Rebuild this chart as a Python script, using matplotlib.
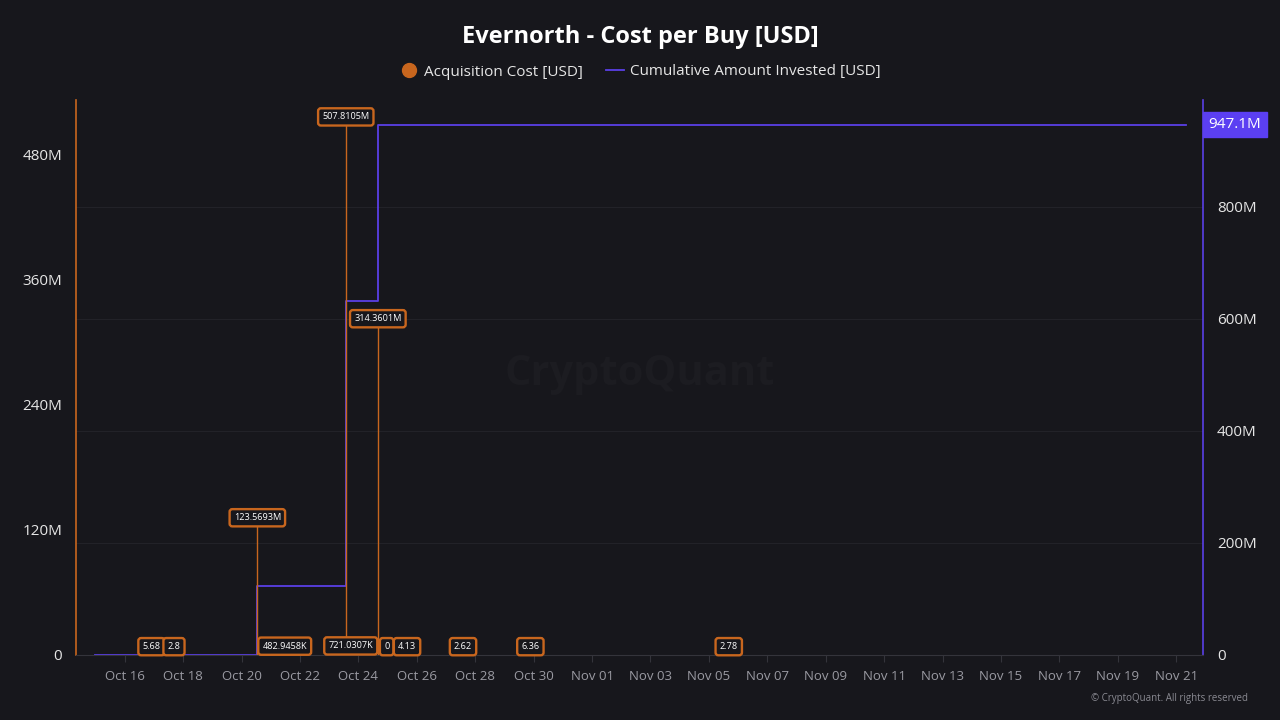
import matplotlib
matplotlib.use("Agg")
import matplotlib.pyplot as plt
import matplotlib.dates as mdates
import pandas as pd
import numpy as np

plt.rcParams['font.family'] = ['Open Sans', 'DejaVu Sans']

# ---- data ----
buy_times = ["2025-10-16 22:00", "2025-10-17 16:30", "2025-10-20 13:00", "2025-10-21 11:30",
             "2025-10-23 13:40", "2025-10-23 17:45", "2025-10-24 16:00", "2025-10-24 23:15",
             "2025-10-25 16:00", "2025-10-27 14:00", "2025-10-29 21:20", "2025-11-05 16:20"]
acq_cost = [5.68, 2.8, 123569300, 482945.8, 507810500, 721030.7, 314360100, 0,
            4.13, 2.62, 6.36, 2.78]
acq_labels = ["5.68", "2.8", "123.5693M", "482.9458K", "507.8105M", "721.0307K",
              "314.3601M", "0", "4.13", "2.62", "6.36", "2.78"]

cum_times = ["2025-10-15 00:00", "2025-10-16 22:00", "2025-10-17 16:30", "2025-10-20 13:00",
             "2025-10-21 11:30", "2025-10-23 13:40", "2025-10-23 17:45", "2025-10-24 16:00",
             "2025-11-21 08:00"]
cum_invested = [0, 5.68, 8.48, 123569308, 124052254, 631862754, 632583785, 947100000, 947100000]
cum_label = "947.1M"

x_tick_dates = ["2025-10-16", "2025-10-18", "2025-10-20", "2025-10-22", "2025-10-24",
                "2025-10-26", "2025-10-28", "2025-10-30", "2025-11-01", "2025-11-03",
                "2025-11-05", "2025-11-07", "2025-11-09", "2025-11-11", "2025-11-13",
                "2025-11-15", "2025-11-17", "2025-11-19", "2025-11-21"]
x_tick_labels = ["Oct 16", "Oct 18", "Oct 20", "Oct 22", "Oct 24", "Oct 26", "Oct 28",
                 "Oct 30", "Nov 01", "Nov 03", "Nov 05", "Nov 07", "Nov 09", "Nov 11",
                 "Nov 13", "Nov 15", "Nov 17", "Nov 19", "Nov 21"]
left_ticks = [0, 120e6, 240e6, 360e6, 480e6]
left_tick_labels = ["0", "120M", "240M", "360M", "480M"]
right_ticks = [0, 200e6, 400e6, 600e6, 800e6]
right_tick_labels = ["0", "200M", "400M", "600M", "800M"]

# ---- style ----
BG = "#17171c"
ORANGE = "#c8661e"
PURPLE = "#5a3fe6"
GRID = "#222228"
TXT = "#e6e6e6"
TICK = "#9a9aa2"

fig = plt.figure(figsize=(12.8, 7.2), dpi=100, facecolor=BG)
ax = fig.add_axes([76/1280, 1-655/720, (1203-76)/1280, (655-100)/720])
ax.set_facecolor(BG)
ax2 = ax.twinx()

bt = pd.to_datetime(buy_times)
ct = pd.to_datetime(cum_times)

# watermark
fig.text(0.5, 0.48, "CryptoQuant", ha='center', va='center', fontsize=30,
         color="#1c1c21", fontweight='bold', zorder=0)

# cumulative step line
ax2.plot(ct, cum_invested, drawstyle='steps-post', color=PURPLE, lw=1.3, zorder=3)
ax2.set_ylim(0, 991e6)
ax2.set_yticks(right_ticks)
ax2.set_yticklabels(right_tick_labels)
ax2.grid(axis='y', color=GRID, lw=0.8)
ax2.set_axisbelow(True)

# acquisition cost
ax.vlines(bt, 0, acq_cost, color=ORANGE, lw=1.0, zorder=4)
ax.set_ylim(0, 532e6)
ax.set_yticks(left_ticks)
ax.set_yticklabels(left_tick_labels)
ax.set_zorder(ax2.get_zorder() + 1)
ax.patch.set_visible(False)
for t, v, lab in zip(bt, acq_cost, acq_labels):
    ax.annotate(lab, (mdates.date2num(t), v), xytext=(0, 6), textcoords='offset points',
                ha='center', va='center', fontsize=6.6, color='white', zorder=6,
                bbox=dict(boxstyle='round,pad=0.45,rounding_size=0.3', fc=BG, ec=ORANGE, lw=1.7))

ax.set_xlim(pd.Timestamp("2025-10-14 08:00"), pd.Timestamp("2025-11-21 22:00"))
ax.set_xticks(pd.to_datetime(x_tick_dates))
ax.set_xticklabels(x_tick_labels)

# spines
for a in (ax, ax2):
    for s in a.spines.values():
        s.set_visible(False)
ax.spines['left'].set_visible(True)
ax.spines['left'].set_color(ORANGE)
ax.spines['left'].set_linewidth(1.2)
ax2.spines['right'].set_visible(True)
ax2.spines['right'].set_color(PURPLE)
ax2.spines['right'].set_linewidth(1.2)
ax.spines['bottom'].set_visible(True)
ax.spines['bottom'].set_color("#34343b")
ax.spines['bottom'].set_linewidth(0.8)

ax.tick_params(axis='x', colors="#34343b", labelcolor=TICK, labelsize=9.5, length=5, pad=6)
ax.tick_params(axis='y', length=0, labelcolor=TXT, labelsize=11, pad=10)
ax2.tick_params(axis='y', length=0, labelcolor=TXT, labelsize=11, pad=10)
ax2.tick_params(axis='x', length=0)

# last value label
ax2.annotate(cum_label, (1.0, cum_invested[-1]), xycoords=('axes fraction', 'data'),
             xytext=(4, 0), textcoords='offset points', ha='left', va='center',
             fontsize=11, color='white', zorder=10,
             bbox=dict(boxstyle='square,pad=0.35', fc="#5b3ff2", ec="#5b3ff2"))

# title & legend
fig.text(0.5, 0.948, "Evernorth - Cost per Buy [USD]", ha='center', va='center',
         fontsize=17, fontweight='bold', color='white')
from matplotlib.lines import Line2D
handles = [Line2D([], [], marker='o', ls='none', color=ORANGE, markersize=10),
           Line2D([], [], color=PURPLE, lw=1.3)]
fig.legend(handles, ["Acquisition Cost [USD]", "Cumulative Amount Invested [USD]"],
           loc='center', bbox_to_anchor=(0.5, 0.9), ncol=2, frameon=False,
           fontsize=11, labelcolor=TXT, handlelength=1.2, handletextpad=0.4,
           columnspacing=1.5)

fig.text(0.975, 0.03, "© CryptoQuant. All rights reserved", ha='right', va='center',
         fontsize=7, color="#8a8a92")

fig.savefig("out.png", dpi=100, facecolor=BG)
